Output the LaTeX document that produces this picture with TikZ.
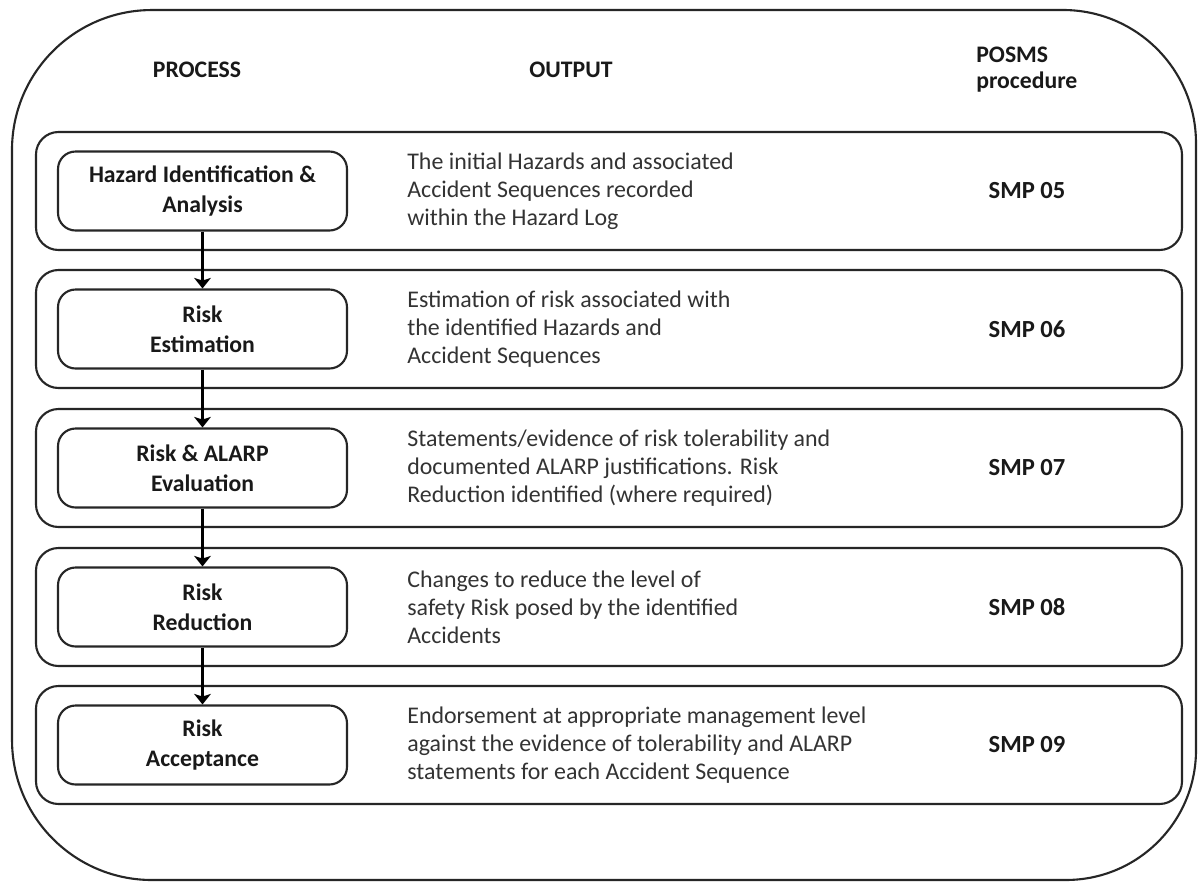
\documentclass[tikz,border=0pt]{standalone}
\usepackage{fontspec}
\setmainfont{Carlito}
\usetikzlibrary{arrows.meta}
\begin{document}
\begin{tikzpicture}[x=0.02cm,y=-0.02cm,
  rowbox/.style={draw=black!85, line width=1.2pt, rounded corners=0.45cm},
  procbox/.style={draw=black!85, line width=1.2pt, rounded corners=0.35cm,
    minimum width=5.78cm, minimum height=1.58cm, align=center, inner sep=0pt,
    font=\fontsize{13.5}{17}\selectfont\bfseries, text=black!90},
  outtext/.style={anchor=west, align=left, inner sep=0pt,
    font=\fontsize{13.6}{16}\selectfont, text=black!80},
  smp/.style={font=\fontsize{14}{15}\selectfont\bfseries, inner sep=0pt, text=black!90},
  head/.style={font=\fontsize{13.5}{14.8}\selectfont\bfseries, align=left, inner sep=0pt, text=black!90},
  flow/.style={-{Stealth[length=6pt,width=9.5pt,inset=1.5pt]}, line width=1.5pt}]
\useasboundingbox (0,0) rectangle (1200,883);
\fill[white] (0,0) rectangle (1200,883);
% outer frame
\draw[line width=1.2pt, draw=black!85]
  (152,10) -- (1063,10) arc[start angle=90,end angle=0,radius=2.66cm]
  -- (1196,750) arc[start angle=0,end angle=-90,radius=2.6cm]
  -- (152,880) arc[start angle=270,end angle=180,radius=2.8cm]
  -- (12,150) arc[start angle=180,end angle=90,radius=2.8cm] -- cycle;
% headings
\node[head] (hproc) at (197,70) {PROCESS};
\node[head] (hout) at (571,70) {OUTPUT};
\node[head, anchor=west] (hposms) at (976,70) {POSMS\\procedure};
% rows
\foreach \t in {132,270,409,548,686}{
  \draw[rowbox] (36,\t) rectangle (1182,\t+118);
}
% process boxes
\node[procbox] (p1) at (202.5,191) {Hazard Identification \&\\Analysis};
\node[procbox] (p2) at (202.5,329) {Risk\\Estimation};
\node[procbox] (p3) at (202.5,468) {Risk \& ALARP\\Evaluation};
\node[procbox] (p4) at (202.5,607) {Risk\\Reduction};
\node[procbox] (p5) at (202.5,745) {Risk\\Acceptance};
% outputs
\node[outtext] (o1) at (407,191) {The initial Hazards and associated\\Accident Sequences recorded\\within the Hazard Log};
\node[outtext] (o2) at (407,329) {Estimation of risk associated with\\the identified Hazards and\\Accident Sequences};
\node[outtext] (o3) at (407,468) {Statements/evidence of risk tolerability and\\documented ALARP justifications. Risk\\Reduction identified (where required)};
\node[outtext] (o4) at (407,607) {Changes to reduce the level of\\safety Risk posed by the identified\\Accidents};
\node[outtext] (o5) at (407,745) {Endorsement at appropriate management level\\against the evidence of tolerability and ALARP\\statements for each Accident Sequence};
% SMP
\node[smp] (s1) at (1027,191) {SMP 05};
\node[smp] (s2) at (1027,329) {SMP 06};
\node[smp] (s3) at (1027,468) {SMP 07};
\node[smp] (s4) at (1027,607) {SMP 08};
\node[smp] (s5) at (1027,745) {SMP 09};
% arrows
\draw[flow] (p1) -- (p2);
\draw[flow] (p2) -- (p3);
\draw[flow] (p3) -- (p4);
\draw[flow] (p4) -- (p5);
\end{tikzpicture}
\end{document}
